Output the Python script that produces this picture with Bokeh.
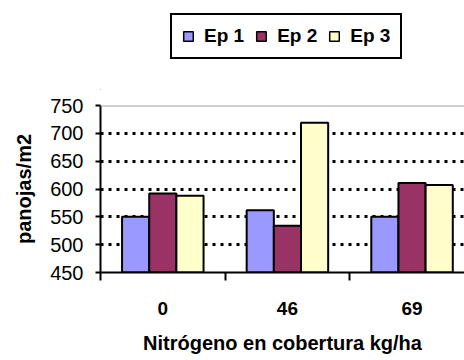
from bokeh.plotting import figure
from bokeh.layouts import column
from bokeh.models import (Range1d, FixedTicker, Legend, LegendItem, Span,
                          ColumnDataSource)
from bokeh.embed import file_html
from bokeh.resources import INLINE

# Nitrogen top-dressing rates (kg/ha) and panicles per m2 for each sampling
categories = ["0", "46", "69"]
ep1 = [550, 562, 550]
ep2 = [592, 534, 611]
ep3 = [588, 719, 607]
series_names = ["Ep 1", "Ep 2", "Ep 3"]
series_colors = ["#9999FF", "#993366", "#FFFFCC"]
y_ticks = [450, 500, 550, 600, 650, 700, 750]

FONT = "Liberation Sans"
bar_w = 0.218
BAR_LINE = 2

p = figure(width=464, height=270, output_backend="svg", toolbar_location=None,
           x_range=Range1d(0, 2.921), y_range=Range1d(450, 750),
           min_border_left=100, min_border_right=0,
           min_border_top=15, min_border_bottom=88)
p.outline_line_color = None
p.background_fill_color = "white"
p.border_fill_color = "white"

centers = [i + 0.5 for i in range(len(categories))]
for k, (vals, color) in enumerate(zip([ep1, ep2, ep3], series_colors)):
    src = ColumnDataSource(dict(x=[c + (k - 1) * bar_w for c in centers], top=vals))
    p.vbar(x="x", top="top", bottom=450, width=bar_w, source=src,
           fill_color=color, line_color="black", line_width=BAR_LINE)

# top border of the plot area
p.add_layout(Span(location=750, dimension="width", line_color="#a0a0a0", line_width=2))

# x axis: labels centred on groups, ticks on group boundaries
xa = p.xaxis[0]
xa.ticker = FixedTicker(ticks=centers, minor_ticks=list(range(len(categories) + 1)))
xa.major_label_overrides = {c: lab for c, lab in zip(centers, categories)}
xa.major_tick_out = 0
xa.major_tick_in = 0
xa.minor_tick_out = 8
xa.minor_tick_in = 0
xa.minor_tick_line_color = "black"
xa.minor_tick_line_width = 2
xa.axis_line_color = "black"
xa.axis_line_width = 2
xa.major_label_text_font = FONT
xa.major_label_text_font_style = "bold"
xa.major_label_text_font_size = "19px"
xa.major_label_text_color = "black"
xa.major_label_standoff = 21
xa.axis_label = "Nitrógeno en cobertura kg/ha"
xa.axis_label_text_font = FONT
xa.axis_label_text_font_style = "bold"
xa.axis_label_text_font_size = "20px"
xa.axis_label_text_color = "black"
xa.axis_label_standoff = 14

ya = p.yaxis[0]
ya.ticker = FixedTicker(ticks=y_ticks)
ya.minor_tick_line_color = None
ya.major_tick_out = 5
ya.major_tick_in = 0
ya.major_tick_line_color = "black"
ya.major_tick_line_width = 2
ya.axis_line_color = "black"
ya.axis_line_width = 2
ya.major_label_text_font = FONT
ya.major_label_text_font_size = "20px"
ya.major_label_text_color = "black"
ya.major_label_standoff = 12
ya.axis_label = "panojas/m2"
ya.axis_label_text_font = FONT
ya.axis_label_text_font_style = "bold"
ya.axis_label_text_font_size = "20px"
ya.axis_label_text_color = "black"
ya.axis_label_standoff = 12

p.xgrid.grid_line_color = None
p.ygrid.grid_line_color = "black"
p.ygrid.grid_line_width = 3
p.ygrid.grid_line_dash = "3 5"

# legend strip above the chart; its swatch renderers sit outside the visible range
lg = figure(width=464, height=90, output_backend="svg", toolbar_location=None,
            x_range=Range1d(0, 1), y_range=Range1d(1, 2),
            min_border_left=0, min_border_right=0, min_border_top=0, min_border_bottom=0)
lg.axis.visible = False
lg.grid.visible = False
lg.outline_line_color = None
swatches = []
for color in series_colors:
    swatches.append(lg.vbar(x=[-5], top=[-5], bottom=[-6], width=0.1, fill_color=color,
                            line_color="black", line_width=1.5))

legend = Legend(items=[LegendItem(label=n, renderers=[r]) for n, r in zip(series_names, swatches)],
                orientation="horizontal", location=(70, 31))
legend.label_text_font = FONT
legend.label_text_font_style = "bold"
legend.label_text_font_size = "19px"
legend.label_text_color = "black"
legend.glyph_width = 12
legend.glyph_height = 12
legend.label_standoff = 10
legend.spacing = 11
legend.padding = 10
legend.margin = 0
legend.border_line_color = "black"
legend.border_line_alpha = 1
legend.border_line_width = 2
legend.background_fill_color = "white"
legend.background_fill_alpha = 1
lg.add_layout(legend, "center")

page = column(lg, p, spacing=0)
open("out.html", "w").write(file_html(page, INLINE))
